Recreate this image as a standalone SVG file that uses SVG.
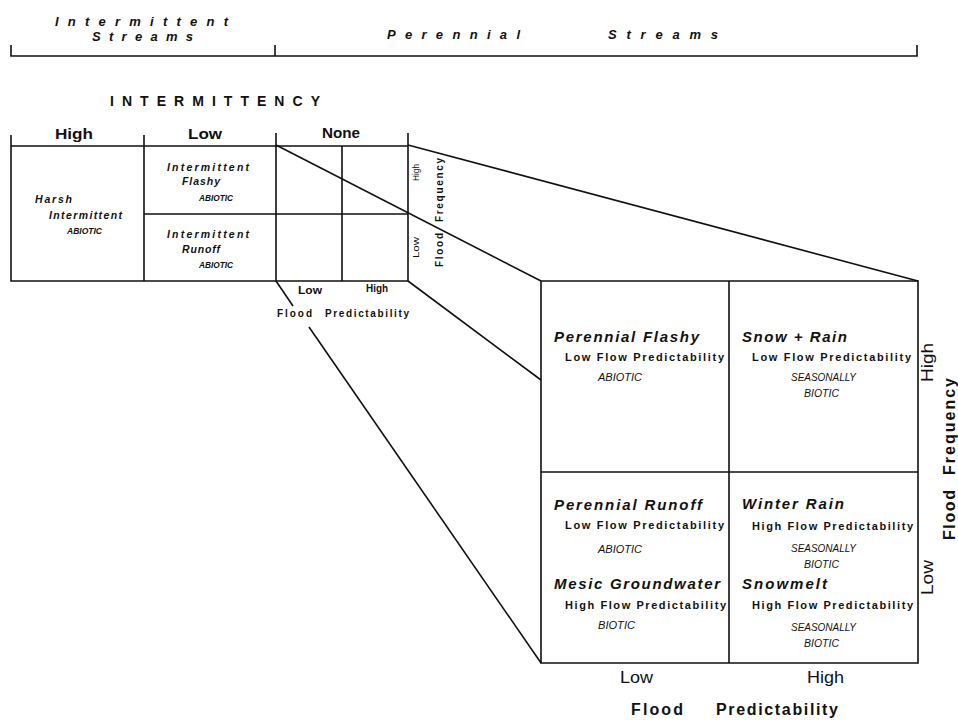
<svg xmlns="http://www.w3.org/2000/svg" width="958" height="720" viewBox="0 0 958 720">
<style>
text{font-family:"Liberation Sans",Arial,sans-serif;fill:#111}
.hdr{font-size:13px;font-weight:bold;font-style:italic}
.cap{font-size:14px;font-weight:bold}
.col{font-size:14px;font-weight:bold}
.sm{font-size:10.5px;font-weight:bold;font-style:italic}
.hand{font-size:9px;font-style:italic;font-weight:bold}
.big{font-size:15px;font-weight:bold;font-style:italic}
.sub{font-size:11px;font-weight:bold}
.hand2{font-size:11px;font-style:italic}
.ax{font-size:16px}
.axb{font-size:16px;font-weight:bold}
.tiny{font-size:10px;font-weight:bold}
.tinyr{font-size:9px}
line,polyline,rect,path{stroke:#111;stroke-width:1.6;fill:none}
</style>
<rect width="958" height="720" fill="#fff" style="stroke:none"/>
<g id="header">
<path d="M11,45 V56 H917 V45 M275,45 V56"/>
<text class="hdr" x="55" y="26" textLength="173" lengthAdjust="spacing">Intermittent</text>
<text class="hdr" x="92" y="41" textLength="101" lengthAdjust="spacing">Streams</text>
<text class="hdr" x="387" y="39" textLength="133" lengthAdjust="spacing">Perennial</text>
<text class="hdr" x="608" y="39" textLength="110" lengthAdjust="spacing">Streams</text>
<text class="cap" x="110" y="106" textLength="210" lengthAdjust="spacing">INTERMITTENCY</text>
</g>
<g id="small-grid">
<path d="M11,135 V281 H408 V133 M11,146 H408 M144,135 V281 M276,133 V281 M342,146 V281 M144,214 H408"/>
<text class="col" x="55" y="139" textLength="38" lengthAdjust="spacingAndGlyphs">High</text>
<text class="col" x="188" y="139" textLength="34" lengthAdjust="spacingAndGlyphs">Low</text>
<text class="col" x="322" y="138" textLength="38" lengthAdjust="spacingAndGlyphs">None</text>
</g>
<g id="harsh-intermittent">
<text class="sm" x="35" y="203" textLength="37" lengthAdjust="spacing">Harsh</text>
<text class="sm" x="49" y="219" textLength="73" lengthAdjust="spacing">Intermittent</text>
<text class="hand" x="67" y="234" textLength="35" lengthAdjust="spacingAndGlyphs">ABIOTIC</text>
</g>
<g id="intermittent-flashy">
<text class="sm" x="167" y="171" textLength="82" lengthAdjust="spacing">Intermittent</text>
<text class="sm" x="182" y="185" textLength="38" lengthAdjust="spacing">Flashy</text>
<text class="hand" x="199" y="201" textLength="34" lengthAdjust="spacingAndGlyphs">ABIOTIC</text>
</g>
<g id="intermittent-runoff">
<text class="sm" x="167" y="238" textLength="82" lengthAdjust="spacing">Intermittent</text>
<text class="sm" x="182" y="253" textLength="38" lengthAdjust="spacing">Runoff</text>
<text class="hand" x="199" y="268" textLength="34" lengthAdjust="spacingAndGlyphs">ABIOTIC</text>
</g>
<g id="small-axes">
<text class="tiny" x="298" y="294" textLength="24" lengthAdjust="spacingAndGlyphs">Low</text>
<text class="tiny" x="366" y="292" textLength="22" lengthAdjust="spacingAndGlyphs">High</text>
<text class="tiny" x="277" y="317" textLength="35" lengthAdjust="spacing">Flood</text>
<text class="tiny" x="325" y="317" textLength="84" lengthAdjust="spacing">Predictability</text>
<text class="tinyr" transform="translate(419,181) rotate(-90)" textLength="17" lengthAdjust="spacingAndGlyphs">High</text>
<text class="tinyr" transform="translate(419,258) rotate(-90)" textLength="21" lengthAdjust="spacingAndGlyphs">Low</text>
<text class="tiny" transform="translate(443,222) rotate(-90)" textLength="64" lengthAdjust="spacing">Frequency</text>
<text class="tiny" transform="translate(443,267) rotate(-90)" textLength="34" lengthAdjust="spacing">Flood</text>
</g>
<g id="connectors">
<line x1="276" y1="145" x2="541" y2="281"/>
<line x1="408" y1="145" x2="918" y2="281"/>
<line x1="408" y1="281" x2="541" y2="380"/>
<line x1="276" y1="281" x2="293" y2="306"/>
<line x1="309" y1="327" x2="541" y2="663"/>
</g>
<g id="big-grid">
<path d="M541,281 H918 V663 H541 Z M729,281 V663 M541,472 H918"/>
</g>
<g id="perennial-flashy">
<text class="big" x="554" y="342" textLength="145" lengthAdjust="spacing">Perennial  Flashy</text>
<text class="sub" x="565" y="361" textLength="159" lengthAdjust="spacing">Low  Flow  Predictability</text>
<text class="hand2" x="598" y="381" textLength="44" lengthAdjust="spacingAndGlyphs">ABIOTIC</text>
</g>
<g id="snow-rain">
<text class="big" x="742" y="342" textLength="105" lengthAdjust="spacing">Snow + Rain</text>
<text class="sub" x="752" y="361" textLength="159" lengthAdjust="spacing">Low  Flow  Predictability</text>
<text class="hand2" x="791" y="381" textLength="65" lengthAdjust="spacingAndGlyphs">SEASONALLY</text>
<text class="hand2" x="804" y="397" textLength="35" lengthAdjust="spacingAndGlyphs">BIOTIC</text>
</g>
<g id="perennial-runoff">
<text class="big" x="554" y="510" textLength="148" lengthAdjust="spacing">Perennial  Runoff</text>
<text class="sub" x="565" y="529" textLength="159" lengthAdjust="spacing">Low  Flow  Predictability</text>
<text class="hand2" x="598" y="553" textLength="44" lengthAdjust="spacingAndGlyphs">ABIOTIC</text>
</g>
<g id="mesic-groundwater">
<text class="big" x="554" y="589" textLength="166" lengthAdjust="spacing">Mesic  Groundwater</text>
<text class="sub" x="565" y="609" textLength="161" lengthAdjust="spacing">High  Flow  Predictability</text>
<text class="hand2" x="598" y="629" textLength="37" lengthAdjust="spacingAndGlyphs">BIOTIC</text>
</g>
<g id="winter-rain">
<text class="big" x="742" y="509" textLength="102" lengthAdjust="spacing">Winter  Rain</text>
<text class="sub" x="752" y="530" textLength="161" lengthAdjust="spacing">High  Flow  Predictability</text>
<text class="hand2" x="791" y="552" textLength="65" lengthAdjust="spacingAndGlyphs">SEASONALLY</text>
<text class="hand2" x="804" y="568" textLength="35" lengthAdjust="spacingAndGlyphs">BIOTIC</text>
</g>
<g id="snowmelt">
<text class="big" x="742" y="589" textLength="85" lengthAdjust="spacing">Snowmelt</text>
<text class="sub" x="752" y="609" textLength="161" lengthAdjust="spacing">High  Flow  Predictability</text>
<text class="hand2" x="791" y="631" textLength="65" lengthAdjust="spacingAndGlyphs">SEASONALLY</text>
<text class="hand2" x="804" y="647" textLength="35" lengthAdjust="spacingAndGlyphs">BIOTIC</text>
</g>
<g id="big-axes">
<text class="ax" x="620" y="683" textLength="33" lengthAdjust="spacingAndGlyphs">Low</text>
<text class="ax" x="807" y="683" textLength="37" lengthAdjust="spacingAndGlyphs">High</text>
<text class="axb" x="631" y="715" textLength="52" lengthAdjust="spacing">Flood</text>
<text class="axb" x="716" y="715" textLength="122" lengthAdjust="spacing">Predictability</text>
<text class="ax" transform="translate(933,382) rotate(-90)" textLength="39" lengthAdjust="spacingAndGlyphs">High</text>
<text class="ax" transform="translate(933,595) rotate(-90)" textLength="35" lengthAdjust="spacingAndGlyphs">Low</text>
<text class="axb" transform="translate(955,475) rotate(-90)" textLength="97" lengthAdjust="spacing">Frequency</text>
<text class="axb" transform="translate(955,540) rotate(-90)" textLength="50" lengthAdjust="spacing">Flood</text>
</g>
</svg>
